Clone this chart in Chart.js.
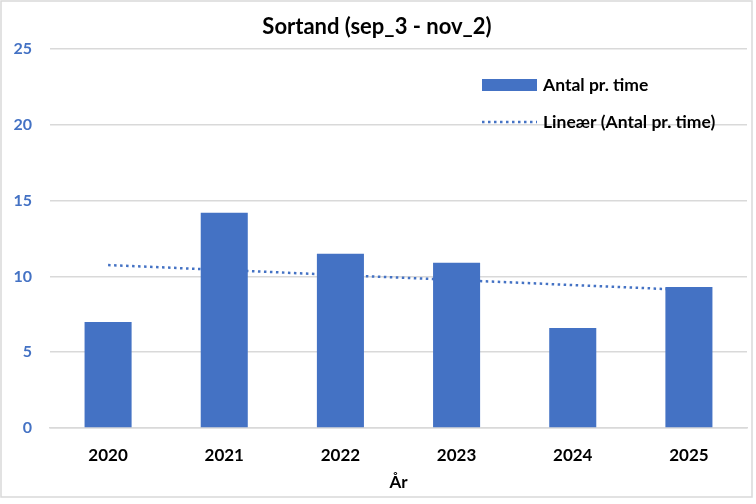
<!DOCTYPE html>
<html>
<head>
<meta charset="utf-8">
<script src="https://cdn.jsdelivr.net/npm/chart.js@4/dist/chart.umd.min.js"></script>
<style>
    html, body { margin: 0; padding: 0; background: #fff; }
    #wrap { width: 756px; height: 504px; position: relative; }
</style>
</head>
<body>
<div id="wrap"><canvas id="chart" width="756" height="504"></canvas></div>
<script>
// Data
const years = ['2020', '2021', '2022', '2023', '2024', '2025'];
const antalPrTime = [7.0, 14.2, 11.5, 10.9, 6.6, 9.3];
// Excel linear trendline, endpoints
const trendline = [10.75, null, null, null, null, 9.1];
const yTicks = [0, 5, 10, 15, 20, 25];

const chartTitle = 'Sortand (sep_3 - nov_2)';
const xAxisTitle = 'År';
const seriesLabel = 'Antal pr. time';
const trendLabel = 'Lineær (Antal pr. time)';

const blue = '#4472C4';
const gridGray = '#d9d9d9';
const FONT = "Lato, 'Open Sans', sans-serif";

// Title, axis title, legend and frame drawn by hand (Excel look)
const decorations = {
    id: 'decorations',
    afterDraw(chart) {
        const { ctx, chartArea } = chart;
        ctx.save();

        // frame
        ctx.strokeStyle = gridGray;
        ctx.lineWidth = 1.5;
        ctx.strokeRect(1, 1, 751, 496);

        // title
        ctx.fillStyle = '#000';
        ctx.textAlign = 'center';
        ctx.textBaseline = 'middle';
        ctx.font = `bold 22px ${FONT}`;
        ctx.fillText(chartTitle, 377, 27);

        // x axis title
        ctx.font = `bold 17px ${FONT}`;
        ctx.fillText(xAxisTitle, (chartArea.left + chartArea.right) / 2, 483);

        // legend
        ctx.textAlign = 'left';
        ctx.font = `bold 17.5px ${FONT}`;
        ctx.fillStyle = blue;
        ctx.fillRect(482, 79, 55, 12);
        ctx.fillStyle = '#000';
        ctx.fillText(seriesLabel, 543, 85);

        ctx.strokeStyle = blue;
        ctx.lineWidth = 2.5;
        ctx.setLineDash([2.5, 3.5]);
        ctx.beginPath();
        ctx.moveTo(482, 122);
        ctx.lineTo(537, 122);
        ctx.stroke();
        ctx.setLineDash([]);
        ctx.fillText(trendLabel, 543, 122);

        ctx.restore();
    }
};

new Chart(document.getElementById('chart'), {
    type: 'bar',
    data: {
        labels: years,
        datasets: [
            {
                label: seriesLabel,
                data: antalPrTime,
                backgroundColor: blue,
                categoryPercentage: 1,
                barPercentage: 0.405,
                order: 0
            },
            {
                type: 'line',
                label: trendLabel,
                data: trendline,
                spanGaps: true,
                borderColor: blue,
                borderWidth: 2.5,
                borderDash: [2.5, 3.5],
                pointRadius: 0,
                fill: false,
                order: 1
            }
        ]
    },
    options: {
        responsive: false,
        animation: false,
        layout: { padding: { top: 49, left: 0, right: 9, bottom: 0 } },
        plugins: {
            legend: { display: false },
            title: { display: false },
            tooltip: { enabled: false }
        },
        scales: {
            x: {
                grid: { display: false, drawTicks: false },
                border: { color: gridGray, width: 1.5 },
                ticks: {
                    color: '#000',
                    padding: 17,
                    font: { family: FONT, size: 17, weight: 'bold' }
                },
                afterFit(scale) { scale.height = 76; }
            },
            y: {
                min: 0,
                max: 25,
                afterBuildTicks(scale) { scale.ticks = yTicks.map(v => ({ value: v })); },
                grid: { color: gridGray, lineWidth: 1.5, drawTicks: false },
                border: { display: false },
                ticks: {
                    color: blue,
                    padding: 18,
                    font: { family: FONT, size: 16, weight: 'bold' }
                },
                afterFit(scale) { scale.width = 50; }
            }
        }
    },
    plugins: [decorations]
});
</script>
</body>
</html>
